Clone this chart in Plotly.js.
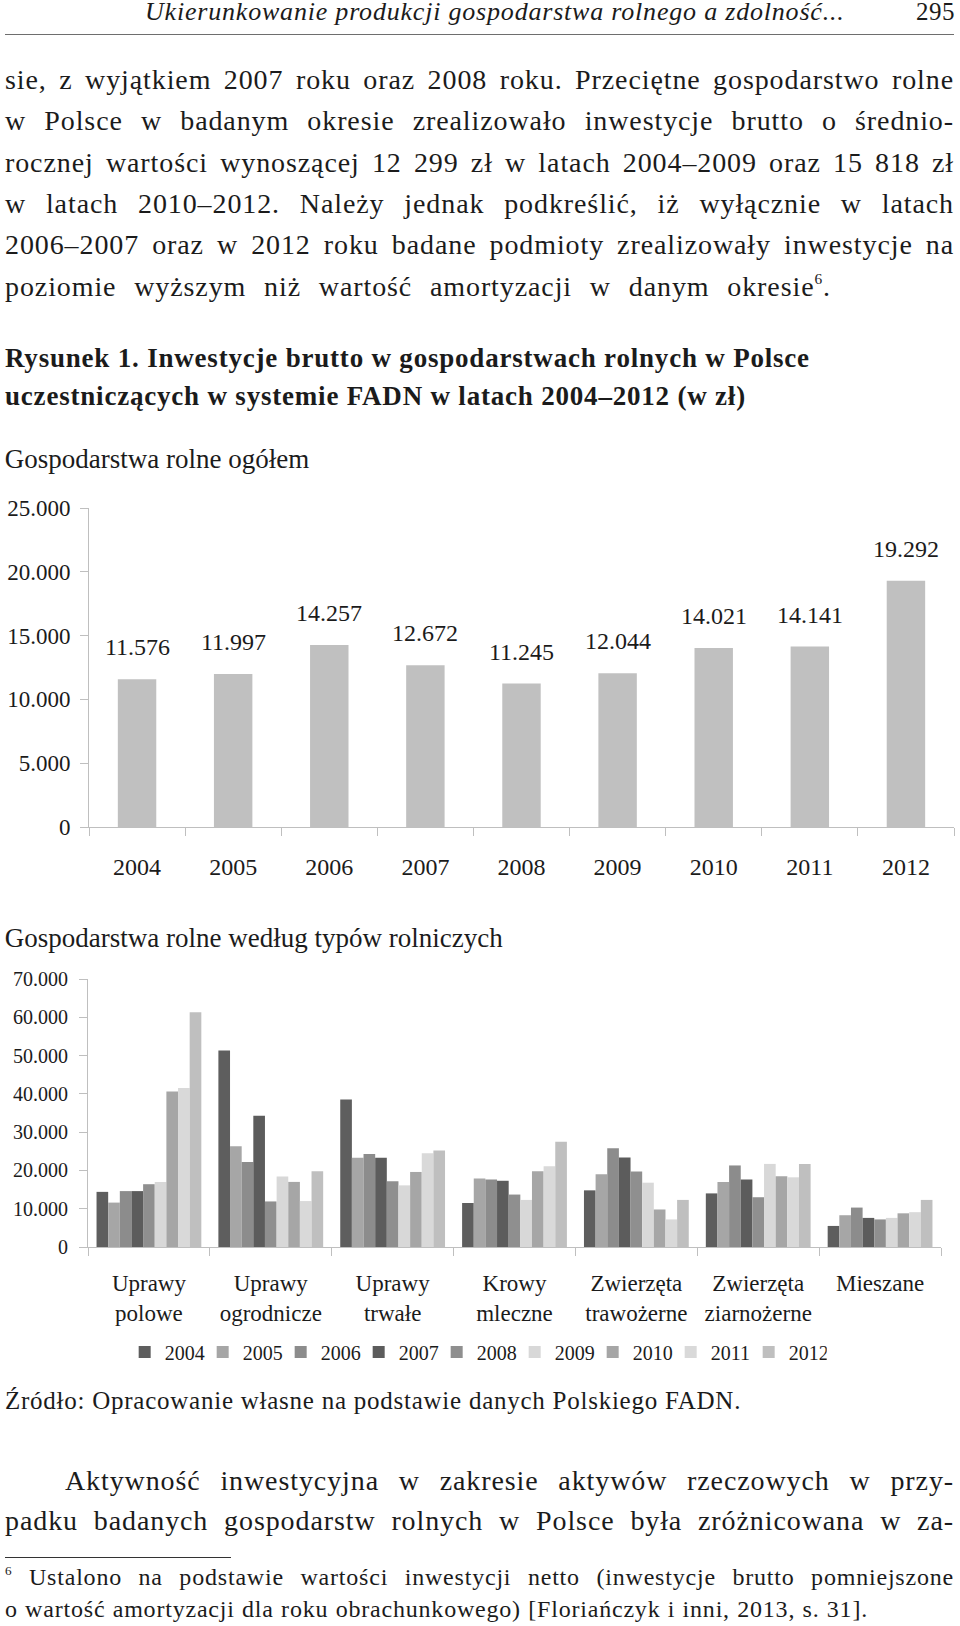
<!DOCTYPE html>
<html><head><meta charset="utf-8">
<script src="https://cdn.plot.ly/plotly-3.0.1.min.js"></script>
<style>
html,body{margin:0;padding:0;background:#fff;}
body{width:960px;height:1626px;position:relative;overflow:hidden;font-family:"Liberation Serif",serif;color:#1b1b1b;}
.ln{position:absolute;text-align:justify;text-align-last:justify;white-space:normal;}
.body{font-size:28px;line-height:40px;letter-spacing:0.9px;}
.nj{text-align:left;text-align-last:left;}
sup{font-size:0.55em;line-height:0;vertical-align:0.75em;}
.rule{position:absolute;height:0;}
.chart{position:absolute;left:0;width:960px;height:460px;}
</style>
</head><body>

<div class="ln nj" style="left:145px;top:-3px;width:760px;font-size:26px;line-height:30px;font-style:italic;letter-spacing:0.8px;">Ukierunkowanie produkcji gospodarstwa rolnego a zdolność...</div>
<div class="ln nj" style="left:916px;top:-3px;width:44px;font-size:25px;line-height:30px;letter-spacing:0.5px;">295</div>
<div class="rule" style="left:5px;top:34px;width:949px;border-top:1.5px solid #6e6e6e;"></div>

<div class="ln body" style="left:5px;top:60px;width:949px;">sie, z wyjątkiem 2007 roku oraz 2008 roku. Przeciętne gospodarstwo rolne</div>
<div class="ln body" style="left:5px;top:101px;width:949px;">w Polsce w badanym okresie zrealizowało inwestycje brutto o średnio-</div>
<div class="ln body" style="left:5px;top:143px;width:949px;">rocznej wartości wynoszącej 12 299 zł w latach 2004–2009 oraz 15 818 zł</div>
<div class="ln body" style="left:5px;top:184px;width:949px;">w latach 2010–2012. Należy jednak podkreślić, iż wyłącznie w latach</div>
<div class="ln body" style="left:5px;top:225px;width:949px;">2006–2007 oraz w 2012 roku badane podmioty zrealizowały inwestycje na</div>
<div class="ln body" style="left:5px;top:267px;width:826px;">poziomie wyższym niż wartość amortyzacji w danym okresie<sup>6</sup>.</div>

<div class="ln nj" style="left:5px;top:340px;width:950px;font-size:27px;line-height:36px;font-weight:bold;letter-spacing:0.8px;">Rysunek 1. Inwestycje brutto w gospodarstwach rolnych w Polsce</div>
<div class="ln nj" style="left:5px;top:378px;width:950px;font-size:27px;line-height:36px;font-weight:bold;letter-spacing:0.8px;">uczestniczących w systemie FADN w latach 2004–2012 (w zł)</div>

<div id="chart1" class="chart" style="top:440px;"></div>
<div id="chart2" class="chart" style="top:915px;"></div>

<div class="ln nj" style="left:5px;top:1383px;width:950px;font-size:25px;line-height:36px;letter-spacing:0.75px;">Źródło: Opracowanie własne na podstawie danych Polskiego FADN.</div>

<div class="ln body" style="left:65px;top:1461px;width:889px;">Aktywność inwestycyjna w zakresie aktywów rzeczowych w przy-</div>
<div class="ln body" style="left:5px;top:1501px;width:949px;">padku badanych gospodarstw rolnych w Polsce była zróżnicowana w za-</div>
<div class="rule" style="left:5px;top:1557px;width:226px;border-top:1px solid #333;"></div>
<div class="ln" style="left:5px;top:1561px;width:949px;font-size:24px;line-height:32px;letter-spacing:0.8px;"><sup>6</sup> Ustalono na podstawie wartości inwestycji netto (inwestycje brutto pomniejszone</div>
<div class="ln" style="left:5px;top:1593px;width:863px;font-size:24px;line-height:32px;letter-spacing:0.8px;">o wartość amortyzacji dla roku obrachunkowego) [Floriańczyk i inni, 2013, s. 31].</div>

<script>
// ---- data ----
const years = ['2004','2005','2006','2007','2008','2009','2010','2011','2012'];
const totalInvestment = [11576, 11997, 14257, 12672, 11245, 12044, 14021, 14141, 19292];

const farmTypes = ['Uprawy<br>polowe','Uprawy<br>ogrodnicze','Uprawy<br>trwałe','Krowy<br>mleczne','Zwierzęta<br>trawożerne','Zwierzęta<br>ziarnożerne','Mieszane'];
const inv2004 = [14400, 51300, 38500, 11500, 14800, 14000, 5500];
const inv2005 = [11600, 26300, 23300, 17900, 19000, 17000, 8300];
const inv2006 = [14600, 22200, 24300, 17600, 25800, 21300, 10300];
const inv2007 = [14600, 34300, 23300, 17300, 23400, 17600, 7600];
const inv2008 = [16400, 11900, 17200, 13700, 19700, 13000, 7200];
const inv2009 = [17000, 18400, 16100, 12300, 16800, 21700, 7600];
const inv2010 = [40600, 17000, 19600, 19800, 9800, 18500, 8800];
const inv2011 = [41500, 12000, 24500, 21100, 7200, 18200, 9100];
const inv2012 = [61300, 19800, 25200, 27500, 12300, 21700, 12300];
const yearColors = ['#5e5e5e','#a6a6a6','#8c8c8c','#5c5c5c','#8f8f8f','#d8d8d8','#a6a6a6','#d9d9d9','#bfbfbf'];

// ---- helpers ----
const FONT = '"Liberation Serif", serif';
const TXT = '#1b1b1b';
const AX = '#bfbfbf';
function fmt(v){ return (v/1000).toFixed(3); }

// ---- chart 1 ----
const annots1 = totalInvestment.map((v,i)=>({
  x: i, y: v, xref:'x', yref:'y', text: fmt(v),
  showarrow:false, yanchor:'middle', yshift:32,
  font:{family:FONT, size:24, color:TXT}
}));

Plotly.newPlot('chart1', [{
  type:'bar', x: years, y: totalInvestment,
  marker:{color:'#c0c0c0'}, hoverinfo:'skip'
}], {
  width:960, height:460,
  margin:{l:89, r:6, t:68, b:73},
  paper_bgcolor:'#fff', plot_bgcolor:'#fff',
  separators:',.',
  font:{family:FONT, color:TXT},
  title:{text:'Gospodarstwa rolne ogółem', font:{family:FONT, size:27, color:TXT},
         x:0.005, xref:'container', xanchor:'left', y:0.959, yref:'container', yanchor:'middle'},
  bargap:0.6,
  showlegend:false,
  xaxis:{type:'category', range:[-0.5, years.length-0.5], showline:true, linecolor:AX, linewidth:1,
         ticks:'outside', ticklen:8, tickcolor:AX, automargin:false,
         tickson:'boundaries', ticklabelstandoff:18, tickfont:{family:FONT, size:24, color:TXT},
         showgrid:false, zeroline:false, fixedrange:true},
  yaxis:{range:[0,25000], dtick:5000, tickformat:',d', showline:true, linecolor:AX, linewidth:1,
         ticks:'outside', ticklen:8, tickcolor:AX, ticklabelstandoff:5, automargin:false,
         tickfont:{family:FONT, size:23, color:TXT}, showgrid:false, zeroline:false, fixedrange:true},
  annotations: annots1
}, {staticPlot:true, displayModeBar:false});

// ---- chart 2 ----
const series2 = [inv2004, inv2005, inv2006, inv2007, inv2008, inv2009, inv2010, inv2011, inv2012];
const traces2 = series2.map((vals,i)=>({
  type:'bar', name: years[i], x: farmTypes, y: vals,
  marker:{color: yearColors[i]}, hoverinfo:'skip'
}));

Plotly.newPlot('chart2', traces2, {
  width:960, height:460,
  margin:{l:88, r:19, t:64, b:128},
  paper_bgcolor:'#fff', plot_bgcolor:'#fff',
  separators:',.',
  font:{family:FONT, color:TXT},
  title:{text:'Gospodarstwa rolne według typów rolniczych', font:{family:FONT, size:27, color:TXT},
         x:0.005, xref:'container', xanchor:'left', y:0.95, yref:'container', yanchor:'middle'},
  barmode:'group', bargap:0.14, bargroupgap:0,
  showlegend:true,
  legend:{orientation:'h', x:0.043, xref:'paper', xanchor:'left', y:0.05, yref:'container', yanchor:'middle',
          font:{family:FONT, size:20, color:TXT}, itemwidth:30, entrywidth:33, entrywidthmode:'pixels',
          bgcolor:'rgba(0,0,0,0)', traceorder:'normal'},
  xaxis:{type:'category', showline:true, linecolor:AX, linewidth:1, ticks:'outside', ticklen:8, tickcolor:AX,
         tickson:'boundaries', ticklabelstandoff:15, automargin:false, tickfont:{family:FONT, size:23, color:TXT},
         showgrid:false, zeroline:false, fixedrange:true},
  yaxis:{range:[0,70000], dtick:10000, tickformat:',d', showline:true, linecolor:AX, linewidth:1,
         ticks:'outside', ticklen:8, tickcolor:AX, ticklabelstandoff:7, automargin:false,
         tickfont:{family:FONT, size:20, color:TXT}, showgrid:false, zeroline:false, fixedrange:true}
}, {staticPlot:true, displayModeBar:false});
</script>
</body></html>
